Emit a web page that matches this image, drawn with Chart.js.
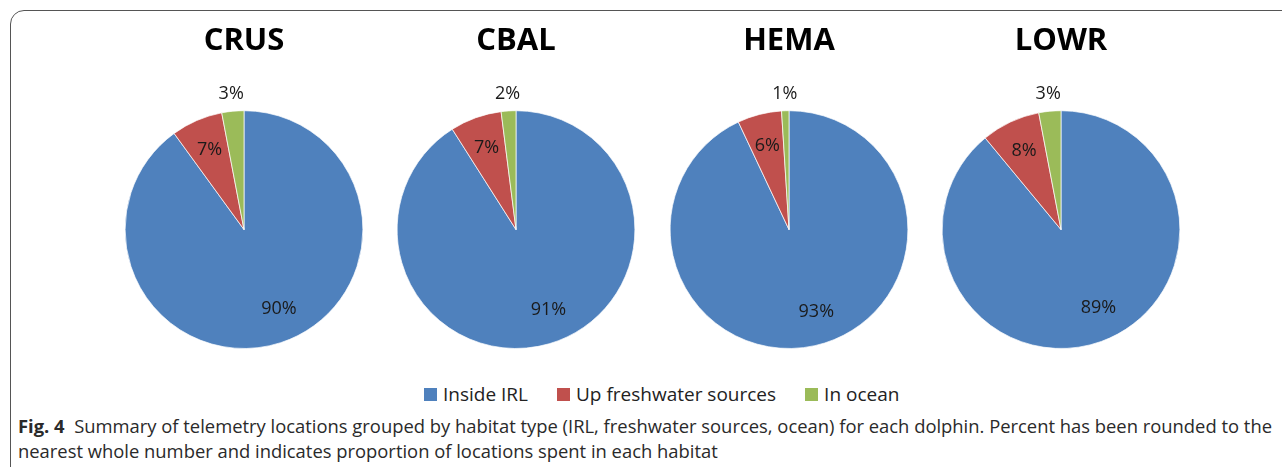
<!DOCTYPE html>
<html>
<head>
<meta charset="utf-8">
<script src="https://cdn.jsdelivr.net/npm/chart.js@4.4.1/dist/chart.umd.min.js"></script>
<style>
  body { margin: 0; background: #fff; width: 1282px; height: 467px; overflow: hidden; position: relative; font-family: "Open Sans", sans-serif; }
  #frame { position: absolute; left: 10px; top: 10px; width: 1300px; height: 500px; border: 1.5px solid #555; border-radius: 14px; }
  canvas { position: absolute; }
  #legend { position: absolute; left: 424px; top: 381px; display: flex; align-items: center; font-size: 19px; color: #222; }
  #legend .item { display: flex; align-items: center; margin-right: 29px; }
  #legend .sw { width: 13px; height: 13px; margin-right: 6px; }
  #caption { position: absolute; left: 18px; top: 414px; font-family: "Open Sans", sans-serif; font-size: 18px; line-height: 25px; color: #2a2a2a; white-space: nowrap; }
  #caption div { transform-origin: left center; display: inline-block; }
</style>
</head>
<body>
<div id="frame"></div>
<canvas id="c0" width="272" height="340"></canvas>
<canvas id="c1" width="272" height="340"></canvas>
<canvas id="c2" width="272" height="340"></canvas>
<canvas id="c3" width="272" height="340"></canvas>
<div id="legend"></div>
<div id="caption">
  <div id="cap1"><b>Fig. 4</b>&nbsp; Summary of telemetry locations grouped by habitat type (IRL, freshwater sources, ocean) for each dolphin. Percent has been rounded to the</div><br>
  <div id="cap2">nearest whole number and indicates proportion of locations spent in each habitat</div>
</div>
<script>
// data
let dolphins = ["CRUS", "CBAL", "HEMA", "LOWR"];
let habitats = ["Inside IRL", "Up freshwater sources", "In ocean"];
let insideIRL = [90, 91, 93, 89];
let freshwater = [7, 7, 6, 8];
let ocean = [3, 2, 1, 3];
let colors = ["#4F81BD", "#C0504D", "#9BBB59"];

let pieCenters = [244, 516, 789, 1061];

// labels like excel "best fit": big slices inside, thin ones outside
let pctLabels = {
    id: "pctLabels",
    afterDatasetsDraw(chart) {
        let ctx = chart.ctx;
        let meta = chart.getDatasetMeta(0);
        let values = chart.data.datasets[0].data;
        ctx.save();
        ctx.font = "18px 'Open Sans', sans-serif";
        ctx.fillStyle = "#1a1a1a";
        ctx.textAlign = "center";
        ctx.textBaseline = "middle";
        meta.data.forEach((arc, i) => {
            let p = arc.getProps(["x", "y", "startAngle", "endAngle", "outerRadius"], true);
            let mid = (p.startAngle + p.endAngle) / 2;
            if (values[i] >= 20) mid -= 0.1; // excel nudges the big label a bit
            let r = values[i] >= 5 ? p.outerRadius * 0.73 : p.outerRadius + 17;
            ctx.fillText(values[i] + "%", p.x + Math.cos(mid) * r, p.y + Math.sin(mid) * r);
        });
        ctx.restore();
    }
};

dolphins.forEach((name, i) => {
    let canvas = document.getElementById("c" + i);
    canvas.style.left = (pieCenters[i] - 136) + "px";
    canvas.style.top = "20px";
    new Chart(canvas, {
        type: "pie",
        data: {
            labels: habitats,
            datasets: [{
                data: [insideIRL[i], freshwater[i], ocean[i]],
                backgroundColor: colors,
                borderColor: "rgba(255,255,255,0.7)",
                borderWidth: 1
            }]
        },
        options: {
            responsive: false,
            animation: false,
            layout: { padding: { top: 0, bottom: 11, left: 10, right: 10 } },
            plugins: {
                legend: { display: false },
                tooltip: { enabled: false },
                title: {
                    display: true,
                    text: name,
                    color: "#000",
                    font: { family: "'Open Sans', sans-serif", size: 31, weight: "bold", lineHeight: 1.2 },
                    padding: { top: 3, bottom: 50 }
                }
            }
        },
        plugins: [pctLabels]
    });
});

// legend
let legend = document.getElementById("legend");
habitats.forEach((h, i) => {
    let item = document.createElement("div");
    item.className = "item";
    item.innerHTML = `<span class="sw" style="background:${colors[i]}"></span><span>${h}</span>`;
    legend.appendChild(item);
});

// squeeze caption lines to the width of the figure
let cap1 = document.getElementById("cap1");
let cap2 = document.getElementById("cap2");
let s = 1254 / cap1.getBoundingClientRect().width;
cap1.style.transform = `scaleX(${s})`;
cap2.style.transform = `scaleX(${s})`;
</script>
</body>
</html>
